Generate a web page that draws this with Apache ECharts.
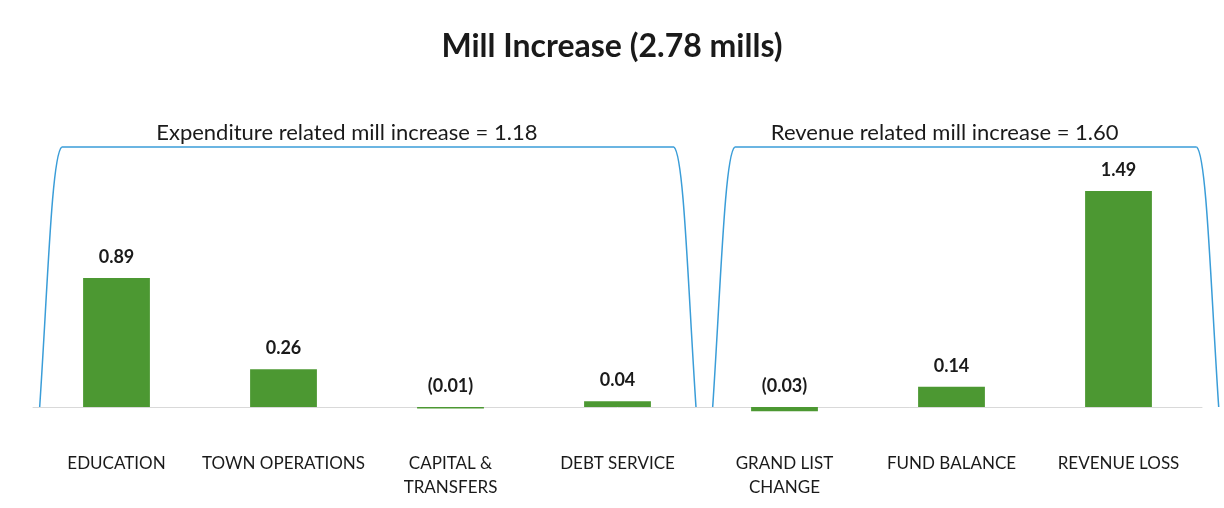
<!DOCTYPE html>
<html>
<head>
<meta charset="utf-8">
<script src="https://cdn.jsdelivr.net/npm/echarts@6/dist/echarts.min.js"></script>
<style>
html,body{margin:0;padding:0;background:#fff;}
#chart{width:1224px;height:508px;}
</style>
</head>
<body>
<div id="chart"></div>
<script>
const titleText = 'Mill Increase (2.78 mills)';
const categories = ['EDUCATION', 'TOWN OPERATIONS', 'CAPITAL &\nTRANSFERS', 'DEBT SERVICE', 'GRAND LIST\nCHANGE', 'FUND BALANCE', 'REVENUE LOSS'];
const values = [0.89, 0.26, -0.01, 0.04, -0.03, 0.14, 1.49];
const groupLabels = ['Expenditure related mill increase = 1.18', 'Revenue related mill increase = 1.60'];
const groupRanges = [[0, 3], [4, 6]];

const FONT = 'Lato, "Open Sans", sans-serif';
const chart = echarts.init(document.getElementById('chart'));

function fmt(v) {
  return v < 0 ? '(' + Math.abs(v).toFixed(2) + ')' : v.toFixed(2);
}

const option = {
  backgroundColor: '#ffffff',
  animation: false,
  title: {
    text: titleText,
    left: 'center',
    top: 26,
    textStyle: { fontFamily: FONT, fontSize: 32, fontWeight: 'bold', color: '#1a1a1a' }
  },
  grid: { left: 33, right: 22, top: 146, bottom: 72, outerBoundsMode: 'none', containLabel: false },
  xAxis: {
    type: 'category',
    data: categories,
    axisLine: { onZero: true, lineStyle: { color: '#d9d9d9', width: 1 } },
    axisTick: { show: false },
    axisLabel: {
      margin: 16,
      fontFamily: FONT,
      fontSize: 17,
      color: '#1a1a1a',
      lineHeight: 24,
      interval: 0,
      verticalAlign: 'top'
    }
  },
  yAxis: {
    type: 'value',
    min: -0.2,
    max: 1.8,
    show: false,
    splitLine: { show: false }
  },
  series: [{
    type: 'bar',
    data: values,
    barWidth: '40%',
    itemStyle: { color: '#4c9832' },
    label: {
      show: true,
      position: 'top',
      distance: 12,
      fontFamily: FONT,
      fontSize: 18,
      fontWeight: 'bold',
      color: '#1a1a1a',
      formatter: p => fmt(p.value)
    }
  }]
};
chart.setOption(option);

function drawBrackets() {
  const half = chart.convertToPixel({ xAxisIndex: 0 }, categories[1]) - chart.convertToPixel({ xAxisIndex: 0 }, categories[0]);
  const base = chart.convertToPixel({ yAxisIndex: 0 }, 0);
  const top = base - 260;
  const extents = [[0.46, 0.47], [0.43, 0.6]];
  const graphics = [];
  const stroke = { fill: null, stroke: '#3a9dd8', lineWidth: 1.5 };
  groupRanges.forEach((r, i) => {
    const x0 = chart.convertToPixel({ xAxisIndex: 0 }, categories[r[0]]) - half * extents[i][0];
    const x1 = chart.convertToPixel({ xAxisIndex: 0 }, categories[r[1]]) + half * extents[i][1];
    graphics.push({
      type: 'bezierCurve',
      shape: { x1: x0, y1: base, cpx1: x0 + 8, cpy1: top + 140, cpx2: x0 + 12, cpy2: top + 8, x2: x0 + 22, y2: top },
      style: stroke, z: 1
    });
    graphics.push({
      type: 'line',
      shape: { x1: x0 + 22, y1: top, x2: x1 - 22, y2: top },
      style: stroke, z: 1
    });
    graphics.push({
      type: 'bezierCurve',
      shape: { x1: x1, y1: base, cpx1: x1 - 8, cpy1: top + 140, cpx2: x1 - 12, cpy2: top + 8, x2: x1 - 22, y2: top },
      style: stroke, z: 1
    });
    graphics.push({
      type: 'text',
      x: (x0 + x1) / 2 - 21,
      y: top - 14,
      style: {
        text: groupLabels[i],
        fontFamily: FONT,
        fontSize: 22,
        fill: '#1a1a1a',
        textAlign: 'center',
        textVerticalAlign: 'middle'
      },
      z: 2
    });
  });
  chart.setOption({ graphic: graphics });
}
drawBrackets();
</script>
</body>
</html>
